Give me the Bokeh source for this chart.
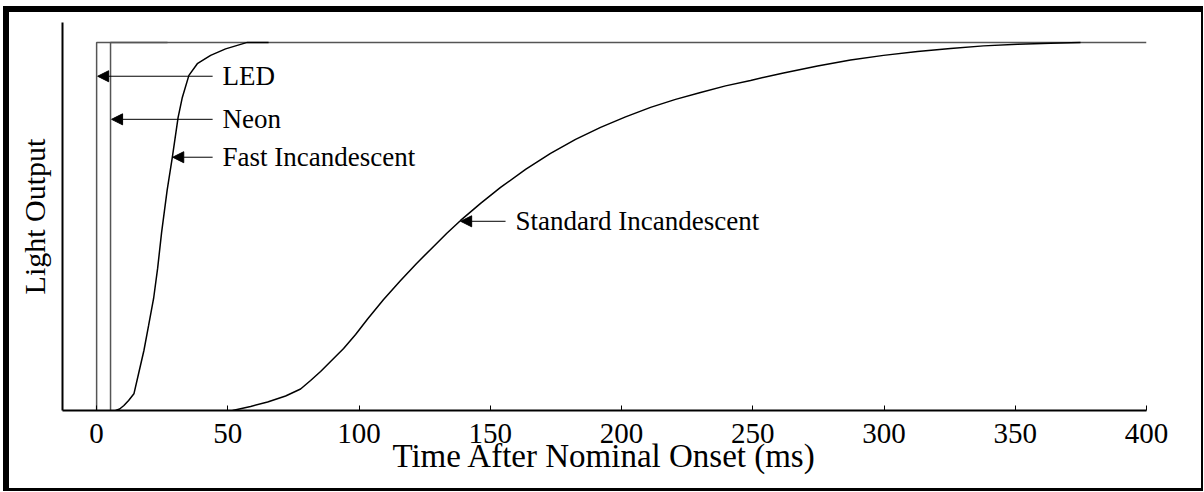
from bokeh.plotting import figure
from bokeh.layouts import column
from bokeh.models import Arrow, NormalHead, FixedTicker, Range1d, ColumnDataSource
from bokeh.core.properties import value
from bokeh.embed import file_html
from bokeh.resources import INLINE

FONT = "Liberation Serif"

# ---- data (time in ms, light output normalised 0..1) ----
x_ticks = [0, 50, 100, 150, 200, 250, 300, 350, 400]

led_t = [0, 0, 400]
led_y = [0, 1, 1]

neon_t = [5.3, 5.3, 27]
neon_y = [0, 1, 1]

fast_t = [7.24, 8.76, 10.40, 12.19, 14.21, 16.0, 18.02, 19.81, 21.71, 23.24, 24.76,
          26.86, 28.84, 31.05, 32.65, 35.16, 38.36, 43.43, 49.14, 57.41, 65.52]
fast_y = [0.0, 0.0041, 0.0136, 0.0272, 0.0453, 0.1005, 0.1630, 0.2310, 0.3043, 0.3859, 0.4837,
          0.5978, 0.6875, 0.7962, 0.8505, 0.9103, 0.9421, 0.9647, 0.9823, 1.0, 1.0]

std_t = [51.81, 58.67, 65.14, 72.0, 77.71, 81.52, 85.33, 89.14, 94.10, 98.67, 103.24,
         109.33, 115.81, 121.90, 128.38, 133.33, 138.67, 146.29, 153.90, 163.43, 172.95,
         182.48, 192.0, 201.52, 211.05, 220.57, 230.10, 239.62, 249.14, 261.71, 274.67,
         287.24, 299.81, 312.76, 325.33, 337.90, 350.86, 363.43, 374.86]
std_y = [0.0, 0.0109, 0.0231, 0.0394, 0.0584, 0.0815, 0.1060, 0.1332, 0.1685, 0.2065, 0.2486,
         0.3016, 0.3533, 0.3995, 0.4457, 0.4810, 0.5163, 0.5625, 0.6060, 0.6549, 0.6984,
         0.7364, 0.7690, 0.7976, 0.8234, 0.8451, 0.8641, 0.8818, 0.8967, 0.9171, 0.9361,
         0.9524, 0.9647, 0.9755, 0.9837, 0.9905, 0.9946, 0.9978, 1.0]

labels = ["LED", "Neon", "Fast Incandescent", "Standard Incandescent"]
label_y = [0.908, 0.791, 0.688, 0.514]
arrow_tail_t = [44.2, 44.2, 44.2, 155.8]
arrow_tip_t = [0.4, 5.7, 29.0, 138.7]
label_t = [48.0, 48.0, 48.0, 159.6]

# ---- figure (transparent; page container supplies white + black frame) ----
p = figure(width=1192, height=476,
           x_range=Range1d(-13, 400), y_range=Range1d(0, 1.054),
           output_backend="svg", toolbar_location=None,
           min_border_left=53, min_border_right=55,
           min_border_top=10, min_border_bottom=78,
           background_fill_color=None, border_fill_color=None)
p.outline_line_color = None
p.grid.visible = False

# x axis
xa = p.xaxis[0]
xa.ticker = FixedTicker(ticks=x_ticks)
xa.major_tick_in = 5
xa.major_tick_out = 0
xa.major_tick_line_color = "black"
xa.minor_tick_line_color = None
xa.axis_line_width = 2
xa.axis_line_color = "black"
xa.major_label_text_font = FONT
xa.major_label_text_font_size = "29px"
xa.major_label_text_color = "black"
xa.major_label_standoff = 13
xa.axis_label = "Time After Nominal Onset (ms)"
xa.axis_label_text_font = FONT
xa.axis_label_text_font_size = "33px"
xa.axis_label_text_font_style = "normal"
xa.axis_label_text_color = "black"
xa.axis_label_standoff = -8

# y axis
ya = p.yaxis[0]
ya.ticker = FixedTicker(ticks=[])
ya.major_tick_line_color = None
ya.minor_tick_line_color = None
ya.major_tick_out = 0
ya.axis_line_width = 2
ya.axis_line_color = "black"
ya.major_label_text_font_size = "0px"
ya.axis_label = "Light Output"
ya.axis_label_text_font = FONT
ya.axis_label_text_font_size = "30px"
ya.axis_label_text_font_style = "normal"
ya.axis_label_text_color = "black"
ya.axis_label_standoff = 12

# curves
p.line(led_t, led_y, line_color="#555555", line_width=1.5)
p.line(neon_t, neon_y, line_color="#555555", line_width=1.5)
p.line(fast_t, fast_y, line_color="black", line_width=1.5)
p.line(std_t, std_y, line_color="black", line_width=1.5)

# arrows + labels
src = ColumnDataSource(dict(x0=arrow_tail_t, x1=arrow_tip_t, y=label_y))
p.add_layout(Arrow(source=src, x_start="x0", y_start="y", x_end="x1", y_end="y",
                   line_color="black", line_width=1,
                   end=NormalHead(size=11, fill_color="black", line_color="black", line_width=1)))
p.text(x=label_t, y=label_y, text=labels, text_font=value(FONT), text_font_size="27px",
       text_baseline="middle", text_align="left", text_color="black")

# black frame around the whole chart
page = column(p, styles={"background-color": "white",
                         "border-style": "solid", "border-color": "black",
                         "border-width": "6px 2px 3px 6px",
                         "margin-left": "3px", "margin-top": "6px"})

open("out.html", "w").write(file_html(page, INLINE))
